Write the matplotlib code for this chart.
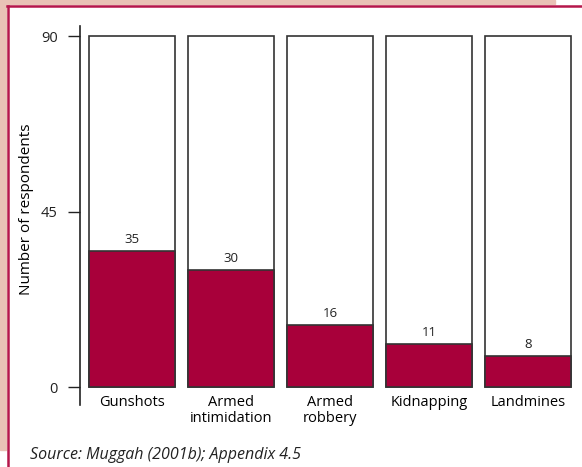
import matplotlib
matplotlib.use('Agg')
import matplotlib.pyplot as plt
import matplotlib.patches as patches
from matplotlib.lines import Line2D

plt.rcParams['font.family'] = ['Open Sans', 'DejaVu Sans']

# data
categories = ['Gunshots', 'Armed\nintimidation', 'Armed\nrobbery', 'Kidnapping', 'Landmines']
respondents = [35, 30, 16, 11, 8]
y_max = 90
y_ticks = [0, 45, 90]
source = 'Source: Muggah (2001b); Appendix 4.5'

fill_color = '#A8003A'
edge_color = '#333333'
pink = '#E9C2B6'
crimson = '#B5164B'

W, H = 582, 467
fig = plt.figure(figsize=(W / 100, H / 100), dpi=100)
fig.patch.set_facecolor('white')

# pink frame and crimson rule round the box
fig.patches.append(patches.Rectangle((0, 17 / H), 6 / W, 1 - 17 / H,
                                     transform=fig.transFigure, color=pink, zorder=0))
fig.patches.append(patches.Rectangle((0, 1 - 4 / H), 555 / W, 4 / H,
                                     transform=fig.transFigure, color=pink, zorder=0))
fig.lines.append(Line2D([7.5 / W, 7.5 / W], [0, 1 - 5.5 / H], transform=fig.transFigure,
                        color=crimson, lw=1.8))
fig.lines.append(Line2D([6.6 / W, 1], [1 - 5.5 / H, 1 - 5.5 / H], transform=fig.transFigure,
                        color=crimson, lw=1.8))

ax = fig.add_axes([80 / W, 62 / H, 495 / W, 379 / H])
ax.set_facecolor('none')

x = list(range(len(categories)))
bw = 0.866
ax.bar(x, [y_max] * len(x), width=bw, color='white', edgecolor=edge_color, linewidth=1.2, zorder=1)
ax.bar(x, respondents, width=bw, color=fill_color, edgecolor=edge_color, linewidth=1.2, zorder=2)
for xi, v in zip(x, respondents):
    ax.text(xi, v + 1.2, str(v), ha='center', va='bottom', fontsize=9.5, color='#222222')

ax.set_xlim(-0.524, 4.47)
ax.set_ylim(-4.6, 92.6)
ax.set_yticks(y_ticks)
ax.set_yticklabels([str(t) for t in y_ticks], fontsize=10.5)
ax.set_xticks(x)
ax.set_xticklabels(categories, fontsize=10.5, linespacing=1.1)
ax.tick_params(axis='x', length=0, pad=-7)
ax.tick_params(axis='y', direction='out', length=9, width=1, pad=7, colors='#222222')

for s in ['top', 'right', 'bottom']:
    ax.spines[s].set_visible(False)
ax.spines['left'].set_color('#222222')
ax.spines['left'].set_linewidth(1.2)

ax.set_ylabel('Number of respondents', fontsize=11)
ax.yaxis.set_label_coords(-0.092, 0.517)

fig.text(30 / W, 1 - 455 / H, source, fontsize=11.5, style='italic', color='#222222', va='center')

fig.savefig('out.png', dpi=100)
